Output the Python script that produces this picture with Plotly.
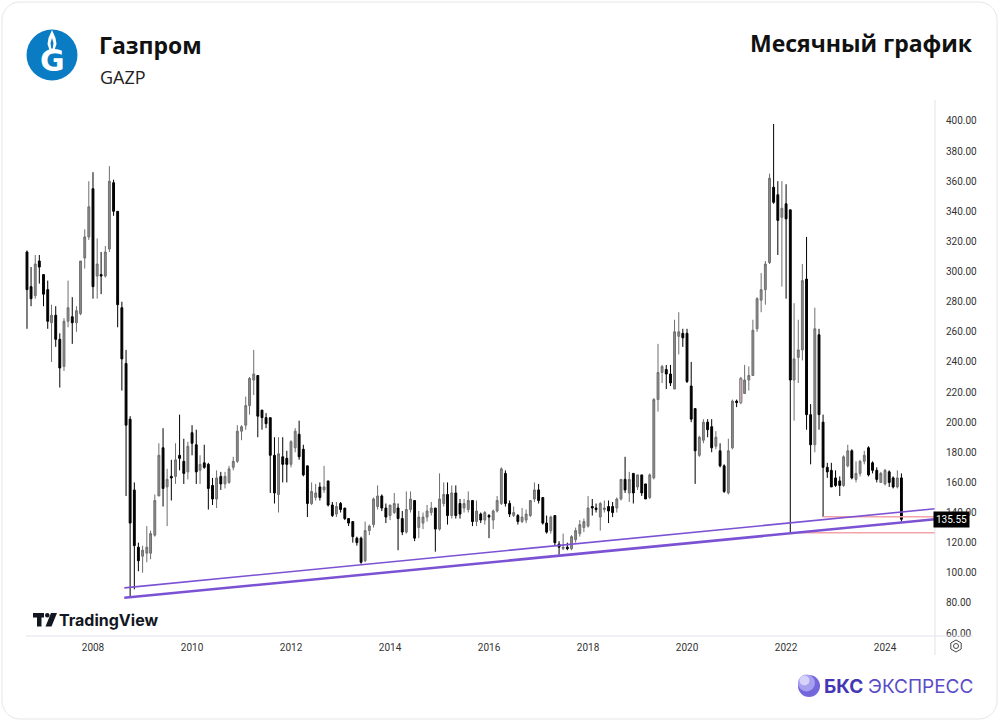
import math
import pandas as pd
import plotly.graph_objects as go

# ---------------- data (monthly GAZP candles, Sep 2006 .. May 2024) ----------------
start_month = "2006-09-01"

open_ = [
    313, 290, 284, 307,
    298, 288, 266, 271, 255, 237, 267, 270, 266, 272, 309, 323,
    355, 297, 298, 297, 315, 359, 340, 276, 239, 202, 155, 117,
    111, 113, 113, 125, 151, 183, 157, 164, 164, 178, 174, 167,
    193, 185, 168, 173, 172, 158, 149, 164, 159, 160, 170, 174,
    194, 198, 211, 228, 231, 208, 203, 203, 178, 152, 177, 176,
    172, 183, 192, 182, 171, 146, 150, 157, 155, 161, 145, 139,
    146, 143, 136, 134, 123, 123, 108, 128, 132, 144, 151, 143,
    138, 140, 143, 136, 127, 142, 148, 130, 133, 137, 140, 143,
    129, 146, 152, 138, 153, 146, 143, 142, 148, 134, 139, 135,
    138, 135, 141, 146, 166, 146, 138, 138, 134, 135, 138, 149,
    155, 150, 133, 128, 138, 119, 116, 117, 116, 122, 126, 130,
    131, 144, 143, 137, 142, 144, 144, 143, 149, 162, 153, 166,
    157, 165, 159, 150, 163, 215, 233, 235, 232, 222, 257, 259,
    259, 224, 209, 178, 188, 200, 197, 184, 181, 171, 153, 183,
    214, 213, 219, 228, 231, 262, 281, 288, 306, 356, 351, 336,
    345, 341, 228, 243, 248, 295, 205, 185, 258, 200, 170, 168,
    163, 161, 158, 171, 181, 162, 166, 174, 183, 173, 168, 160,
    159, 167, 163, 157, 163,
]
high_ = [
    314, 303, 311, 311,
    298, 294, 278, 277, 259, 269, 294, 283, 277, 307, 328, 360,
    366, 322, 313, 317, 370, 361, 340, 280, 248, 204, 160, 120,
    118, 131, 128, 152, 186, 196, 169, 175, 186, 205, 189, 187,
    198, 195, 178, 185, 173, 163, 168, 167, 167, 171, 177, 198,
    198, 217, 230, 248, 231, 208, 206, 203, 190, 190, 190, 181,
    188, 196, 201, 185, 171, 160, 159, 160, 171, 161, 147, 147,
    147, 143, 136, 134, 124, 124, 134, 132, 150, 158, 152, 146,
    145, 153, 146, 141, 154, 154, 148, 141, 140, 145, 147, 143,
    166, 160, 160, 158, 158, 149, 149, 154, 148, 148, 140, 141,
    139, 142, 151, 170, 168, 148, 144, 139, 143, 142, 148, 160,
    159, 150, 138, 138, 138, 121, 126, 120, 125, 130, 135, 136,
    151, 149, 146, 147, 148, 148, 147, 150, 162, 177, 167, 166,
    165, 165, 159, 166, 216, 252, 238, 238, 238, 268, 273, 262,
    262, 240, 209, 191, 202, 202, 202, 194, 186, 172, 189, 215,
    215, 230, 238, 237, 268, 283, 299, 307, 365, 398, 360, 360,
    358, 341, 279, 268, 305, 323, 212, 276, 262, 205, 173, 173,
    168, 164, 178, 185, 182, 174, 175, 181, 184, 174, 170, 167,
    169, 168, 164, 168, 166,
]
low_ = [
    262, 277, 282, 292,
    277, 262, 240, 250, 223, 234, 263, 252, 260, 271, 302, 321,
    282, 282, 285, 296, 313, 337, 263, 221, 151, 84, 89, 101,
    100, 107, 109, 124, 151, 144, 131, 148, 159, 168, 159, 162,
    178, 159, 159, 169, 142, 145, 143, 155, 156, 159, 168, 173,
    188, 195, 205, 218, 190, 195, 196, 153, 146, 140, 160, 160,
    170, 180, 175, 164, 137, 145, 148, 148, 153, 144, 137, 137,
    140, 135, 131, 120, 118, 106, 107, 125, 130, 142, 141, 133,
    135, 139, 115, 125, 126, 140, 121, 123, 129, 134, 138, 114,
    128, 144, 132, 136, 136, 136, 140, 140, 131, 131, 133, 132,
    123, 129, 140, 145, 144, 137, 137, 132, 133, 133, 137, 147,
    146, 132, 126, 126, 118, 112, 115, 115, 115, 120, 124, 127,
    130, 138, 140, 128, 140, 133, 137, 140, 148, 153, 147, 146,
    155, 151, 149, 149, 162, 207, 226, 222, 224, 222, 245, 250,
    226, 200, 159, 177, 186, 190, 180, 182, 170, 153, 152, 182,
    210, 212, 219, 221, 231, 260, 273, 278, 305, 345, 311, 290,
    282, 127, 201, 226, 241, 195, 172, 180, 195, 137, 163, 157,
    157, 151, 157, 170, 162, 160, 164, 172, 164, 166, 160, 160,
    158, 157, 156, 156, 134,
]
close_ = [
    288, 282, 305, 303,
    285, 267, 271, 255, 236, 267, 276, 266, 274, 307, 323, 343,
    290, 305, 297, 313, 360, 340, 278, 242, 198, 133, 118, 108,
    115, 117, 126, 148, 178, 156, 162, 163, 175, 176, 166, 184,
    186, 167, 172, 170, 156, 149, 163, 159, 164, 169, 174, 194,
    197, 211, 229, 232, 204, 203, 199, 178, 153, 179, 172, 172,
    187, 194, 177, 165, 146, 154, 153, 150, 157, 145, 138, 144,
    142, 136, 133, 124, 120, 107, 128, 131, 149, 151, 143, 137,
    145, 146, 136, 127, 142, 149, 123, 137, 137, 141, 143, 129,
    149, 152, 138, 153, 138, 139, 146, 148, 134, 141, 135, 140,
    137, 141, 148, 169, 146, 139, 140, 134, 137, 139, 148, 155,
    148, 133, 127, 137, 120, 117, 117, 116, 124, 128, 132, 134,
    143, 143, 142, 146, 143, 141, 140, 149, 162, 155, 162, 153,
    165, 153, 149, 165, 215, 233, 237, 232, 226, 260, 260, 256,
    227, 202, 181, 190, 200, 195, 183, 190, 171, 154, 181, 214,
    213, 229, 228, 231, 261, 282, 288, 305, 362, 346, 334, 342,
    335, 228, 242, 248, 294, 205, 185, 262, 205, 170, 167, 157,
    158, 158, 177, 181, 163, 166, 174, 178, 165, 168, 162, 166,
    168, 160, 157, 163, 135.55,
]
highlight_month = "2021-02-01"

# drawn lines (trend channel and horizontal levels)
trend_start = "2008-08-19"
lower_trend = [83.4, 135.5]
upper_trend = [90.0, 142.5]
level_values = [126.6, 137.2]
level_starts = ["2022-02-01", "2022-10-01"]

y_ticks = list(range(60, 401, 20))

# ---------------- figure ----------------
W, H = 1000, 722
ML, MR, MT, MB = 22, 65, 105, 86
PW, PH = W - ML - MR, H - MT - MB


def px(x):
    return (x - ML) / PW


def py(y):
    return (H - MB - y) / PH


months = pd.date_range(start_month, periods=len(close_), freq="MS")
base = pd.Timestamp("2008-01-01")
mlen = pd.Timedelta(days=30.436875)
x_left = base + mlen * -17.21
x_right = base + mlen * 204.12

fig = go.Figure()

fig.add_trace(go.Candlestick(
    x=months, open=open_, high=high_, low=low_, close=close_,
    increasing=dict(fillcolor="#8c8c8c", line=dict(color="#6f6f6f", width=1)),
    decreasing=dict(fillcolor="#000000", line=dict(color="#000000", width=1)),
    whiskerwidth=0, hoverinfo="skip", showlegend=False,
))

hi = list(months).index(pd.Timestamp(highlight_month))
fig.add_trace(go.Candlestick(
    x=[months[hi]], open=[open_[hi]], high=[high_[hi]], low=[low_[hi]], close=[close_[hi]],
    increasing=dict(fillcolor="#f4b6c8", line=dict(color="#8a8a8a", width=1)),
    decreasing=dict(fillcolor="#f4b6c8", line=dict(color="#8a8a8a", width=1)),
    whiskerwidth=0, hoverinfo="skip", showlegend=False,
))

for lv, ls in zip(level_values, level_starts):
    fig.add_trace(go.Scatter(x=[ls, x_right], y=[lv, lv], mode="lines",
                             line=dict(color="#f4a3ab", width=1.5),
                             hoverinfo="skip", showlegend=False))

fig.add_trace(go.Scatter(x=[trend_start, x_right], y=upper_trend, mode="lines",
                         line=dict(color="#7b52d3", width=1.6),
                         hoverinfo="skip", showlegend=False))
fig.add_trace(go.Scatter(x=[trend_start, x_right], y=lower_trend, mode="lines",
                         line=dict(color="#7b52d3", width=2.6),
                         hoverinfo="skip", showlegend=False))

shapes = []


def line_px(x0, y0, x1, y1, color="#e0e3eb", width=1):
    shapes.append(dict(type="line", xref="paper", yref="paper",
                       x0=px(x0), y0=py(y0), x1=px(x1), y1=py(y1),
                       line=dict(color=color, width=width)))


def circle_px(cx, cy, r, fill, rx=None):
    rx = r if rx is None else rx
    shapes.append(dict(type="circle", xref="paper", yref="paper",
                       x0=px(cx - rx), x1=px(cx + rx), y0=py(cy + r), y1=py(cy - r),
                       fillcolor=fill, line=dict(width=0, color=fill)))


def path_px(points, fill=None, line_color=None, width=1, layer="above"):
    d = "M " + " L ".join(f"{px(x):.5f},{py(y):.5f}" for x, y in points) + " Z"
    shapes.append(dict(type="path", xref="paper", yref="paper", path=d, layer=layer,
                       fillcolor=fill if fill else "rgba(0,0,0,0)",
                       line=dict(color=line_color or "rgba(0,0,0,0)", width=width)))


# card border (rounded)
L0, T0, R0, B0, r = 2, 2, 997, 719, 18
corner = []
for cx, cy, a0 in [(R0 - r, T0 + r, -90), (R0 - r, B0 - r, 0), (L0 + r, B0 - r, 90), (L0 + r, T0 + r, 180)]:
    for k in range(0, 10):
        a = math.radians(a0 + k * 10)
        corner.append((cx + r * math.cos(a), cy + r * math.sin(a)))
path_px(corner, fill=None, line_color="#e6e6e6", width=1, layer="below")

# axis separators
line_px(935, 100, 935, 655)
line_px(26, 636, 973, 636)

# gear icon
hexagon = [(956 + 6 * math.cos(math.radians(30 + 60 * k)), 646 + 6 * math.sin(math.radians(30 + 60 * k)))
           for k in range(6)]
path_px(hexagon, line_color="#4a4a4a", width=1)
shapes.append(dict(type="circle", xref="paper", yref="paper",
                   x0=px(953.5), x1=px(958.5), y0=py(648.5), y1=py(643.5),
                   line=dict(color="#4a4a4a", width=1)))

# Gazprom logo
circle_px(52, 55, 25.5, "#0a7cc4")
flame = [(52, 30), (55.5, 38), (56.5, 44), (54.5, 50), (52, 52), (49.5, 50), (47.5, 44), (48.5, 38)]
path_px(flame, fill="#ffffff")
flame_in = [(52, 38), (53.5, 43), (52.8, 48), (52, 49), (51.2, 48), (50.5, 43)]
path_px(flame_in, fill="#0a7cc4")

# TradingView logo icon
path_px([(33, 613), (44, 613), (44, 617.5), (41.5, 617.5), (41.5, 626.5), (37, 626.5), (37, 617.5), (33, 617.5)],
        fill="#131722")
circle_px(47.3, 615.3, 2.3, "#131722")
path_px([(51, 613), (57, 613), (51.5, 626.5), (45.5, 626.5)], fill="#131722")

# BKS sphere
circle_px(809, 686, 11, "#7467dc")
circle_px(806.5, 683, 8.5, "#a79ff0")
circle_px(804.5, 680.5, 5, "#d6d2fa")

annotations = [
    dict(text="<b>Газпром</b>", x=px(97), y=py(45), xanchor="left", yanchor="middle",
         font=dict(family="Open Sans", size=23, color="#111111")),
    dict(text="GAZP", x=px(98), y=py(76.5), xanchor="left", yanchor="middle",
         font=dict(family="Open Sans", size=18, color="#222222")),
    dict(text="<b>Месячный график</b>", x=px(975), y=py(43), xanchor="right", yanchor="middle",
         font=dict(family="Open Sans", size=23, color="#111111")),
    dict(text="<b>G</b>", x=px(52), y=py(60), xanchor="center", yanchor="middle",
         font=dict(family="DejaVu Sans", size=30, color="#ffffff")),
    dict(text="<b>TradingView</b>", x=px(57), y=py(620), xanchor="left", yanchor="middle",
         font=dict(family="Inter", size=16, color="#131722")),
    dict(text="<b>БКС</b>", x=px(822), y=py(687), xanchor="left", yanchor="middle",
         font=dict(family="Inter", size=19, color="#4536b4")),
    dict(text="ЭКСПРЕСС", x=px(866), y=py(687), xanchor="left", yanchor="middle",
         font=dict(family="Inter", size=19, color="#5a4cc8")),
    dict(text=f"{close_[-1]:.2f}", x=1, xshift=-2, y=close_[-1], xref="paper", yref="y",
         xanchor="left", yanchor="middle", bgcolor="#000000", borderpad=2,
         font=dict(family="Roboto", size=10, color="#ffffff")),
]
for a in annotations:
    a.setdefault("xref", "paper")
    a.setdefault("yref", "paper")
    a["showarrow"] = False

fig.update_layout(
    width=W, height=H,
    margin=dict(l=ML, r=MR, t=MT, b=MB, pad=0),
    paper_bgcolor="#ffffff", plot_bgcolor="#ffffff",
    showlegend=False, hovermode=False,
    shapes=shapes, annotations=annotations,
    boxgap=0.3,
    xaxis=dict(type="date", range=[x_left, x_right], rangeslider=dict(visible=False),
               showgrid=False, zeroline=False, showline=False, ticks="",
               dtick="M24", tick0="2008-01-01", tickformat="%Y",
               ticklabelstandoff=4,
               tickfont=dict(family="Roboto", size=10, color="#333333")),
    yaxis=dict(side="right", range=[58.02, 410.6], showgrid=False, zeroline=False,
               showline=False, ticks="", tickvals=y_ticks,
               ticktext=[f"{v:.2f}" for v in y_ticks],
               ticklabelstandoff=10,
               tickfont=dict(family="Roboto", size=10, color="#333333")),
)

fig.write_html("out.html")
